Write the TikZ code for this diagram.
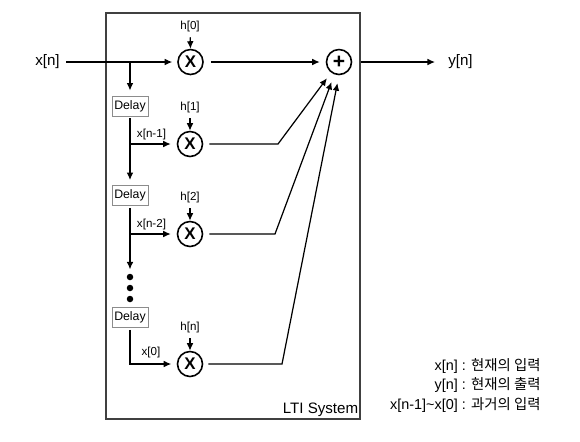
\documentclass[tikz,border=0pt]{standalone}
\usepackage{fontspec}
\setmainfont{Liberation Sans}
\newfontfamily\krfont{Noto Sans CJK KR}
\usetikzlibrary{arrows.meta}
\tikzset{
  wire/.style={line width=0.7pt,-{Latex[length=1.5mm,width=1.35mm]}},
  multcirc/.style={draw,circle,line width=0.9pt,minimum size=0.5cm,inner sep=0pt,font=\fontsize{9.6}{10}\selectfont\bfseries},
  delaybox/.style={draw=black!45,line width=0.5pt,minimum width=0.72cm,minimum height=0.4cm,inner sep=0pt,font=\fontsize{7}{8}\selectfont},
  smalltext/.style={inner sep=0pt,font=\fontsize{6.6}{7}\selectfont},
  bigtext/.style={inner sep=0pt,font=\fontsize{8.6}{10}\selectfont},
  legendtext/.style={anchor=east,inner sep=0pt,font=\fontsize{8.2}{9}\selectfont},
  dotnode/.style={circle,fill=black,minimum size=0.13cm,inner sep=0pt}
}
\begin{document}
\begin{tikzpicture}
\useasboundingbox (0.000,0.000) rectangle (11.600,-8.820);
\node[draw=black!75,line width=0.8pt,minimum width=5.080cm,minimum height=8.120cm,inner sep=0pt] (ltibox) at (4.660,-4.320) {};
\node[bigtext,anchor=south east] (ltilabel) at (7.170,-8.340) {LTI System};
\node[bigtext] (xin) at (0.950,-1.240) {x[n]};
\node[bigtext] (yout) at (9.210,-1.240) {y[n]};
\node[multcirc] (mult0) at (3.810,-1.240) {X};
\node[multcirc] (mult1) at (3.800,-2.880) {X};
\node[multcirc] (mult2) at (3.800,-4.680) {X};
\node[multcirc] (mult3) at (3.800,-7.280) {X};
\node[multcirc,font=\fontsize{12}{12}\selectfont\bfseries] (plus) at (6.780,-1.240) {+};
\node[delaybox] (delay1) at (2.600,-2.120) {Delay};
\node[delaybox] (delay2) at (2.600,-3.910) {Delay};
\node[delaybox] (delay3) at (2.600,-6.350) {Delay};
\node[smalltext] (h0) at (3.800,-0.530) {h[0]};
\node[smalltext] (h1) at (3.800,-2.150) {h[1]};
\node[smalltext] (h2) at (3.800,-3.950) {h[2]};
\node[smalltext] (hn) at (3.800,-6.550) {h[n]};
\node[smalltext] (xn1) at (3.030,-2.690) {x[n-1]};
\node[smalltext] (xn2) at (3.030,-4.490) {x[n-2]};
\node[smalltext] (x0) at (3.020,-7.040) {x[0]};
\node[dotnode] (dot1) at (2.600,-5.540) {};
\node[dotnode] (dot2) at (2.600,-5.760) {};
\node[dotnode] (dot3) at (2.600,-5.980) {};
\coordinate (tap0) at (2.600,-1.240);
\coordinate (tap1) at (2.600,-2.880);
\coordinate (tap2) at (2.600,-4.680);
\coordinate (bend1) at (5.560,-2.880);
\coordinate (bend2) at (5.500,-4.680);
\coordinate (bend3) at (5.640,-7.280);
\draw[wire,shorten <=0.12cm,shorten >=0.1cm] (xin.east) -- (mult0.west);
\draw[wire,shorten >=0.1cm] (tap0) -- (delay1.north);
\draw[wire,shorten <=0.04cm,shorten >=0.1cm] (delay1.south) -- (delay2.north);
\draw[wire,shorten <=0.04cm,shorten >=0.08cm] (delay2.south) -- (dot1.north);
\draw[wire,shorten <=0.04cm,shorten >=0.11cm] (delay3.south) |- (mult3.west);
\draw[wire,shorten >=0.12cm] (tap1) -- (mult1.west);
\draw[wire,shorten >=0.12cm] (tap2) -- (mult2.west);
\draw[wire,shorten <=0.1cm] (h0.south) -- (mult0.north);
\draw[wire,shorten <=0.1cm] (h1.south) -- (mult1.north);
\draw[wire,shorten <=0.1cm] (h2.south) -- (mult2.north);
\draw[wire,shorten <=0.1cm] (hn.south) -- (mult3.north);
\draw[wire,shorten <=0.14cm,shorten >=0.12cm] (mult0.east) -- (plus.west);
\draw[wire,shorten <=0.12cm,shorten >=0.14cm] (mult1.east) -- (bend1) -- (plus);
\draw[wire,shorten <=0.12cm,shorten >=0.16cm] (mult2.east) -- (bend2) -- (plus);
\draw[wire,shorten <=0.1cm,shorten >=0.16cm] (mult3.east) -- (bend3) -- (plus.south);
\draw[wire,shorten <=0.18cm,shorten >=0.26cm] (plus.east) -- (yout.west);
\node[legendtext] (legend1) at (10.820,-7.320) {x[n] : {\krfont 현재의 입력}};
\node[legendtext] (legend2) at (10.820,-7.700) {y[n] : {\krfont 현재의 출력}};
\node[legendtext] (legend3) at (10.820,-8.100) {x[n-1]\textasciitilde x[0] : {\krfont 과거의 입력}};
\end{tikzpicture}
\end{document}
